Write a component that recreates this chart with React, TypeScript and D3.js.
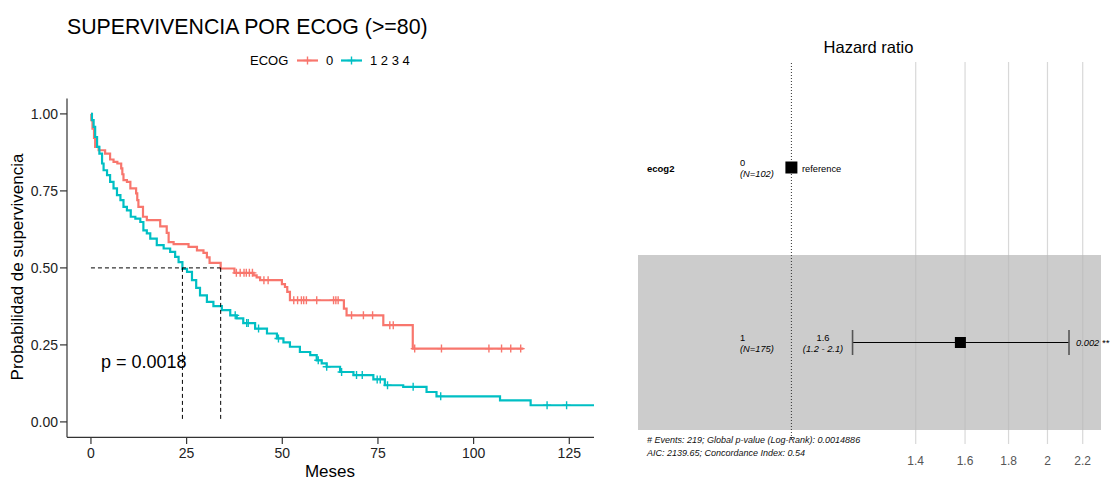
import React from 'react';
import * as d3 from 'd3';

// Kaplan-Meier steps: time (months) and survival after the drop
const ecog0Times = [0.1, 0.4, 0.8, 1.1, 2.0, 3.7, 5.0, 5.9, 6.9, 7.9, 8.2, 8.5, 9.4, 10.3, 11.8, 12.1, 12.4, 13.6, 14.6, 18.1, 19.8, 20.3, 21.6, 25.5, 27.7, 29.4, 30.3, 31.0, 33.9, 37.5, 42.5, 43.3, 44.2, 49.9, 50.7, 51.3, 52.0, 66.1, 66.8, 76.4, 84.1];
const ecog0Surv = [0.98, 0.952, 0.922, 0.893, 0.882, 0.871, 0.852, 0.844, 0.839, 0.823, 0.804, 0.785, 0.779, 0.758, 0.742, 0.72, 0.698, 0.666, 0.655, 0.635, 0.614, 0.584, 0.577, 0.568, 0.557, 0.549, 0.534, 0.516, 0.498, 0.484, 0.476, 0.469, 0.46, 0.447, 0.438, 0.422, 0.395, 0.368, 0.346, 0.314, 0.238];
const ecog0End = 113;
const ecog0Censor = [38, 39, 40, 40.6, 41.4, 42.2, 45.2, 46.3, 53, 54, 55, 55.6, 56.3, 59, 63.4, 64, 64.6, 68.1, 71.2, 73.6, 78.1, 79, 84.6, 91.6, 104, 107.3, 109.7, 112.3];

const ecog1Times = [0.26, 0.7, 1.1, 1.6, 2.2, 2.9, 3.3, 4.2, 5.0, 5.9, 6.8, 7.7, 8.5, 9.4, 10.4, 11.6, 12.9, 13.7, 14.6, 15.5, 17.2, 19.0, 20.7, 22.0, 22.9, 23.9, 25.1, 26.4, 27.5, 28.5, 30.3, 32.0, 34.2, 36.4, 38.1, 39.8, 42.9, 46.0, 48.6, 50.3, 52.0, 54.6, 57.3, 59.0, 60.3, 61.6, 65.1, 68.6, 73.8, 76.8, 81.6, 87.7, 90.3, 106.9, 114.9];
const ecog1Surv = [0.98, 0.958, 0.925, 0.893, 0.871, 0.839, 0.817, 0.801, 0.779, 0.758, 0.736, 0.72, 0.698, 0.687, 0.666, 0.66, 0.649, 0.622, 0.612, 0.595, 0.574, 0.563, 0.552, 0.536, 0.519, 0.497, 0.487, 0.46, 0.435, 0.411, 0.39, 0.376, 0.363, 0.346, 0.336, 0.321, 0.303, 0.287, 0.271, 0.258, 0.244, 0.227, 0.217, 0.2, 0.19, 0.179, 0.162, 0.152, 0.138, 0.119, 0.114, 0.097, 0.083, 0.07, 0.054];
const ecog1End = 134;
const ecog1Censor = [37.7, 40.7, 41.1, 43.8, 49, 59.4, 61.6, 65.5, 69.4, 70.9, 74.8, 75.6, 77.5, 84.2, 91.4, 119.2, 124.3];

const groupLabels = ['0', '1 2 3 4'];
const groupColors = ['#F8766D', '#00BFC4'];
const medians = [33.9, 23.9];
const xTicks = [0, 25, 50, 75, 100, 125];
const yTicks = [0, 0.25, 0.5, 0.75, 1];
const pText = 'p = 0.0018';

// forest plot
const forestLevels = ['0', '1'];
const forestN = [102, 175];
const forestHR = [1, 1.58];
const forestLow = [NaN, 1.18];
const forestHigh = [NaN, 2.12];
const forestP = ['', '0.002 **'];
const forestTicks = [1.4, 1.6, 1.8, 2, 2.2];
const forestNotes = [
  '# Events: 219; Global p-value (Log-Rank): 0.0014886',
  'AIC: 2139.65; Concordance Index: 0.54',
];

const font = '"Liberation Sans", Arial, sans-serif';

type Pt = [number, number];

function stepPoints(times: number[], surv: number[], end: number): Pt[] {
  const pts: Pt[] = [[0, 1]];
  times.forEach((t, i) => pts.push([t, surv[i]]));
  pts.push([end, surv[surv.length - 1]]);
  return pts;
}

function survAt(times: number[], surv: number[], t: number) {
  let s = 1;
  times.forEach((ti, i) => { if (ti <= t) s = surv[i]; });
  return s;
}

const Plus = ({ x, y, c, r = 4 }: { x: number; y: number; c: string; r?: number }) => (
  <g stroke={c} strokeWidth={1.4}>
    <line x1={x - r} x2={x + r} y1={y} y2={y} />
    <line x1={x} x2={x} y1={y - r} y2={y + r} />
  </g>
);

export default function App() {
  const W = 1111, H = 480;
  const x = d3.scaleLinear().domain([-6.26, 131.46]).range([67, 594]);
  const y = d3.scaleLinear().domain([-0.05, 1.05]).range([437.3, 98.5]);
  const line = d3.line<Pt>().x(d => x(d[0])).y(d => y(d[1])).curve(d3.curveStepAfter);

  const series = [
    { pts: stepPoints(ecog0Times, ecog0Surv, ecog0End), cens: ecog0Censor, times: ecog0Times, surv: ecog0Surv },
    { pts: stepPoints(ecog1Times, ecog1Surv, ecog1End), cens: ecog1Censor, times: ecog1Times, surv: ecog1Surv },
  ];

  const fx = d3.scaleLog().domain([1, 2.2]).range([791.4, 1082.7]);
  const fy = d3.scaleBand<string>().domain(forestLevels).range([80, 430]);

  return (
    <svg width={W} height={H} style={{ position: 'absolute', left: 0, top: 0, fontFamily: font }}>
      <rect width={W} height={H} fill="#fff" />
      {/* KM plot */}
      <text x={67} y={34} fontSize={21.3} fill="#000">SUPERVIVENCIA POR ECOG (&gt;=80)</text>
      <g fontSize={13} fill="#000">
        <text x={250} y={65}>ECOG</text>
        {groupLabels.map((lab, i) => {
          const x0 = i === 0 ? 297 : 341;
          return (
            <g key={lab}>
              <line x1={x0} x2={x0 + 21} y1={60.5} y2={60.5} stroke={groupColors[i]} strokeWidth={2.2} />
              <Plus x={x0 + 10.5} y={60.5} c={groupColors[i]} r={4} />
              <text x={x0 + 29} y={65}>{lab}</text>
            </g>
          );
        })}
      </g>
      <defs>
        <clipPath id="km">
          <rect x={67} y={98.5} width={527} height={338.8} />
        </clipPath>
      </defs>
      <g clipPath="url(#km)">
        {series.map((s, i) => (
          <g key={i}>
            <path d={line(s.pts) ?? ''} fill="none" stroke={groupColors[i]} strokeWidth={2.2} />
            {s.cens.map((t, j) => (
              <Plus key={j} x={x(t)} y={y(survAt(s.times, s.surv, t))} c={groupColors[i]} />
            ))}
          </g>
        ))}
      </g>
      <g stroke="#000" strokeWidth={1} strokeDasharray="4,3" fill="none">
        <line x1={x(0)} x2={x(d3.max(medians)!)} y1={y(0.5)} y2={y(0.5)} />
        {medians.map(m => <line key={m} x1={x(m)} x2={x(m)} y1={y(0.5)} y2={y(0)} />)}
      </g>
      <text x={101} y={368} fontSize={18} fill="#000">{pText}</text>
      {/* axes */}
      <g stroke="#333" strokeWidth={1.2}>
        <line x1={67} x2={67} y1={98.5} y2={437.3} />
        <line x1={67} x2={594} y1={437.3} y2={437.3} />
        {yTicks.map(t => <line key={t} x1={60} x2={67} y1={y(t)} y2={y(t)} />)}
        {xTicks.map(t => <line key={t} x1={x(t)} x2={x(t)} y1={437.3} y2={444} />)}
      </g>
      <g fontSize={14} fill="#222">
        {yTicks.map(t => (
          <text key={t} x={58} y={y(t) + 5} textAnchor="end">{t.toFixed(2)}</text>
        ))}
        {xTicks.map(t => (
          <text key={t} x={x(t)} y={458} textAnchor="middle">{t}</text>
        ))}
      </g>
      <text x={330} y={477} fontSize={17} textAnchor="middle" fill="#000">Meses</text>
      <text transform="translate(23,267) rotate(-90)" fontSize={17} textAnchor="middle" fill="#000">
        Probabilidad de supervivencia
      </text>

      {/* forest plot */}
      <text x={868.5} y={52.5} fontSize={16.5} textAnchor="middle" fill="#000">Hazard ratio</text>
      {forestLevels.map((lev, i) => (
        <rect key={lev} x={638} width={463} y={fy(lev)!} height={fy.bandwidth()}
          fill={i % 2 === 1 ? '#cccccc' : '#ffffff'} />
      ))}
      <g stroke="#b8b8b8" strokeOpacity={0.55} strokeWidth={1.2}>
        {forestTicks.map(t => <line key={t} x1={fx(t)} x2={fx(t)} y1={62} y2={444} />)}
      </g>
      <line x1={fx(1)} x2={fx(1)} y1={63} y2={440} stroke="#333" strokeWidth={1} strokeDasharray="1,2" />
      <text x={647} y={fy('0')! + fy.bandwidth() / 2 + 4} fontSize={9.5} fontWeight="bold" fill="#000">ecog2</text>
      {forestLevels.map((lev, i) => {
        const cy = fy(lev)! + fy.bandwidth() / 2;
        const hasCI = !isNaN(forestLow[i]);
        return (
          <g key={lev} fontSize={9.3} fill="#000">
            <text x={740} y={cy - 1.5}>{lev}</text>
            <text x={740} y={cy + 9.5} fontStyle="italic">(N={forestN[i]})</text>
            {hasCI ? (
              <g>
                <text x={823} y={cy - 1.5} textAnchor="middle">{forestHR[i].toFixed(1)}</text>
                <text x={823} y={cy + 9.5} textAnchor="middle" fontStyle="italic">
                  ({forestLow[i].toFixed(1)} - {forestHigh[i].toFixed(1)})
                </text>
                <line x1={fx(forestLow[i])} x2={fx(forestHigh[i])} y1={cy} y2={cy} stroke="#000" strokeWidth={1} />
                <line x1={fx(forestLow[i])} x2={fx(forestLow[i])} y1={cy - 12.5} y2={cy + 12.5} stroke="#555" strokeWidth={1.6} />
                <line x1={fx(forestHigh[i])} x2={fx(forestHigh[i])} y1={cy - 12.5} y2={cy + 12.5} stroke="#555" strokeWidth={1.6} />
                <rect x={fx(forestHR[i]) - 5.5} y={cy - 5.5} width={11} height={11} fill="#000" />
                <text x={1076} y={cy + 3} fontStyle="italic">{forestP[i]}</text>
              </g>
            ) : (
              <g>
                <rect x={fx(forestHR[i]) - 6} y={cy - 6} width={12} height={12} fill="#000" />
                <text x={802} y={cy + 4}>reference</text>
              </g>
            )}
          </g>
        );
      })}
      <g fontSize={9} fontStyle="italic" fill="#111">
        {forestNotes.map((n, i) => <text key={i} x={647} y={443 + i * 12.5}>{n}</text>)}
      </g>
      <g fontSize={12} fill="#555" textAnchor="middle">
        {forestTicks.map(t => <text key={t} x={fx(t)} y={465}>{t}</text>)}
      </g>
    </svg>
  );
}
